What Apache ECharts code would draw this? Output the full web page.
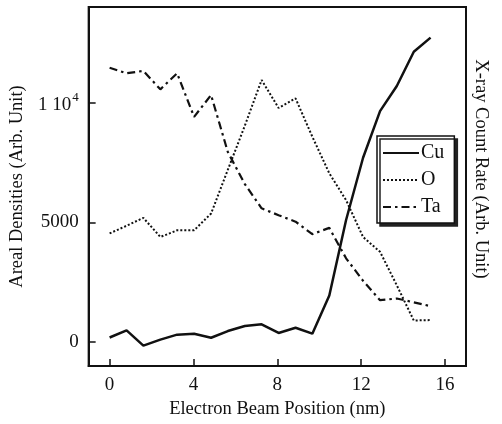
<!DOCTYPE html>
<html><head><meta charset="utf-8">
<script src="https://cdn.jsdelivr.net/npm/echarts@6/dist/echarts.min.js"></script>
<style>html,body{margin:0;padding:0;background:#fff}#c{width:502px;height:424px}</style>
</head><body><div id="c"></div>
<script>
var positions = [0, 0.81, 1.61, 2.42, 3.22, 4.03, 4.84, 5.64, 6.45, 7.25, 8.06, 8.87, 9.67, 10.48, 11.28, 12.09, 12.9, 13.7, 14.51, 15.31];
var cu = [190, 490, -150, 100, 310, 350, 180, 460, 670, 740, 380, 600, 350, 1950, 5100, 7700, 9650, 10700, 12130, 12720];
var oxy = [4540, 4860, 5190, 4390, 4670, 4670, 5370, 7200, 9040, 10950, 9780, 10180, 8580, 7050, 5930, 4390, 3770, 2370, 900, 920];
var ta = [11460, 11230, 11330, 10560, 11230, 9410, 10320, 7940, 6600, 5590, 5300, 5030, 4510, 4770, 3500, 2560, 1750, 1820, 1660, 1500];
var xTicks = [0, 4, 8, 12, 16];
var yTicks = [0, 5000, 10000];

function pairs(v){ return positions.map(function(x,i){ return [x, v[i]]; }); }
var FONT = '"Liberation Serif", "DejaVu Serif", serif';
var chart = echarts.init(document.getElementById('c'));
chart.setOption({
  animation: false,
  backgroundColor: '#fff',
  textStyle: {fontFamily: FONT, color: '#111'},
  grid: {left: 87, right: 36, top: 7, bottom: 58, show: true, borderColor: '#111', borderWidth: 2, backgroundColor: 'transparent'},
  xAxis: {
    type: 'value', min: -1, max: 17,
    splitLine: {show: false},
    axisLine: {onZero: false, lineStyle: {color: '#111', width: 2}},
    axisTick: {inside: true, length: 7, lineStyle: {color: '#111', width: 1.5}, customValues: xTicks},
    axisLabel: {customValues: xTicks, fontFamily: FONT, fontSize: 19, color: '#111', margin: 10},
    name: 'Electron Beam Position (nm)', nameLocation: 'middle', nameGap: 33,
    nameTextStyle: {fontFamily: FONT, fontSize: 18.5, color: '#111'}
  },
  yAxis: {
    type: 'value', min: -1000, max: 14000,
    splitLine: {show: false},
    axisLine: {onZero: false, lineStyle: {color: '#111', width: 2}},
    axisTick: {inside: true, length: 7, lineStyle: {color: '#111', width: 1.5}, customValues: yTicks},
    axisLabel: {
      customValues: yTicks, fontFamily: FONT, fontSize: 19, color: '#111', margin: 10,
      formatter: function(v){ return v === 10000 ? '{a|1 10}{s|4}' : String(v); },
      rich: {
        a: {fontFamily: FONT, fontSize: 19, color: '#111', verticalAlign: 'bottom', lineHeight: 24},
        s: {fontFamily: FONT, fontSize: 13, color: '#111', verticalAlign: 'top', lineHeight: 24, padding: [0,0,12,1]}
      }
    },
    name: 'Areal Densities (Arb. Unit)', nameLocation: 'middle', nameGap: 56,
    nameTextStyle: {fontFamily: FONT, fontSize: 18.5, color: '#111'}
  },
  legend: {
    orient: 'vertical', left: 377, top: 136,
    itemWidth: 36, itemHeight: 12, itemGap: 7,
    padding: [7, 10, 6, 5],
    backgroundColor: '#fff', borderColor: '#111', borderWidth: 1.5, borderRadius: 0,
    shadowColor: '#222', shadowBlur: 0, shadowOffsetX: 3, shadowOffsetY: 3,
    itemStyle: {color: 'transparent', borderWidth: 0, opacity: 0},
    textStyle: {fontFamily: FONT, fontSize: 20, color: '#111', padding: [0,0,0,-3]},
    data: ['Cu', 'O', 'Ta']
  },
  graphic: [{
    type: 'text', x: 481, y: 169, rotation: -Math.PI / 2,
    style: {text: 'X-ray Count Rate (Arb. Unit)', fontFamily: FONT, fontSize: 18.5, fill: '#111', align: 'center', verticalAlign: 'middle'}
  }],
  series: [
    {name: 'Cu', type: 'line', data: pairs(cu), symbol: 'none', lineStyle: {color: '#111', width: 2.5, type: 'solid'}, itemStyle: {color: '#111'}},
    {name: 'O', type: 'line', data: pairs(oxy), symbol: 'none', lineStyle: {color: '#111', width: 2, type: [2, 2]}, itemStyle: {color: '#111'}},
    {name: 'Ta', type: 'line', data: pairs(ta), symbol: 'none', lineStyle: {color: '#111', width: 2.2, type: [8, 4, 2.5, 4]}, itemStyle: {color: '#111'}}
  ]
});
</script></body></html>
